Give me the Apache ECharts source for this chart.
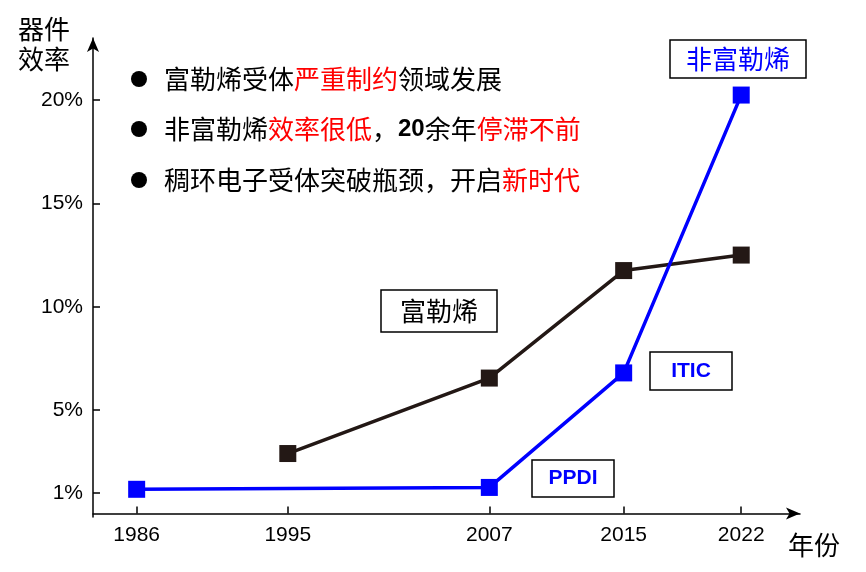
<!DOCTYPE html>
<html><head><meta charset="utf-8">
<script src="https://cdn.jsdelivr.net/npm/echarts@6/dist/echarts.min.js"></script>
<style>html,body{margin:0;padding:0;background:#fff}#c{width:866px;height:572px}</style>
</head><body><div id="c"></div>
<script>
const years = [1986, 1995, 2007, 2015, 2022];
const yTicks = [1, 5, 10, 15, 20];
const fullerene = [[1995, 2.9], [2007, 6.55], [2015, 11.75], [2022, 12.5]];
const nonFullerene = [[1986, 1.17], [2007, 1.26], [2015, 6.8], [2022, 20.24]];
const dark = '#231815', blue = '#0000ff';
const F = '"Noto Sans CJK SC", "Liberation Sans", sans-serif';
const A = '"Liberation Sans", Arial, sans-serif';
const chart = echarts.init(document.getElementById('c'));
function box(x, y, w, h, text, color, font) {
  return [{type:'rect', shape:{x, y, width:w, height:h}, style:{fill:'#fff', stroke:'#000', lineWidth:1.5}, z:10},
    {type:'text', x:x+w/2, y:y+h/2, style:{text, fill:color, font, align:'center', verticalAlign:'middle'}, z:11}];
}
const bullet = (y, parts) => [
  {type:'circle', shape:{cx:139, cy:y, r:8}, style:{fill:'#000'}, z:11},
  {type:'text', x:164, y, style:{text:parts.map(p => '{' + p[1] + '|' + p[0] + '}').join(''),
  font:'26px '+F, fill:'#000', verticalAlign:'middle',
  rich:{k:{fill:'#000', font:'26px '+F}, r:{fill:'#ff0000', font:'26px '+F}, b:{fill:'#000', font:'bold 24px '+A}}}, z:11}];
chart.setOption({
  animation:false,
  grid:{left:93, right:66, top:38, bottom:55},
  xAxis:{type:'value', min:1983.4, max:2025.5,
    axisLine:{show:true, lineStyle:{color:'#000', width:1.5}, symbol:['none','arrow'], symbolSize:[9,14]},
    axisTick:{customValues:years, length:-7, lineStyle:{color:'#000', width:1.5}},
    axisLabel:{customValues:years, formatter:v => String(v), color:'#000', fontSize:21, fontFamily:A, margin:8},
    splitLine:{show:false}},
  yAxis:{type:'value', min:-0.17, max:23,
    axisLine:{show:true, lineStyle:{color:'#000', width:1.5}, symbol:['none','arrow'], symbolSize:[9,14]},
    axisTick:{show:true, customValues:yTicks, length:-7, lineStyle:{color:'#000', width:1.5}},
    axisLabel:{customValues:yTicks, formatter:v => v + '%', color:'#000', fontSize:21, fontFamily:A, margin:10},
    splitLine:{show:false}},
  series:[
    {type:'line', data:fullerene, symbol:'rect', symbolSize:17, lineStyle:{color:dark, width:3.5}, itemStyle:{color:dark}},
    {type:'line', data:nonFullerene, symbol:'rect', symbolSize:17, lineStyle:{color:blue, width:3.5}, itemStyle:{color:blue}}
  ],
  graphic:[
    {type:'text', x:18, y:14, style:{text:'器件\n效率', font:'26px '+F, fill:'#000', lineHeight:30}},
    {type:'text', x:788, y:532, style:{text:'年份', font:'26px '+F, fill:'#000'}},
    ...bullet(79, [['富勒烯受体','k'],['严重制约','r'],['领域发展','k']]),
    ...bullet(129, [['非富勒烯','k'],['效率很低','r'],['，','k'],['20','b'],['余年','k'],['停滞不前','r']]),
    ...bullet(180, [['稠环电子受体突破瓶颈，开启','k'],['新时代','r']]),
    ...box(381, 290, 116, 42, '富勒烯', '#000', '26px '+F),
    ...box(650, 352, 82, 38, 'ITIC', blue, 'bold 21px '+A),
    ...box(532, 460, 82, 37, 'PPDI', blue, 'bold 21px '+A),
    ...box(670, 40, 136, 38, '非富勒烯', blue, '26px '+F)
  ]
});
</script></body></html>
